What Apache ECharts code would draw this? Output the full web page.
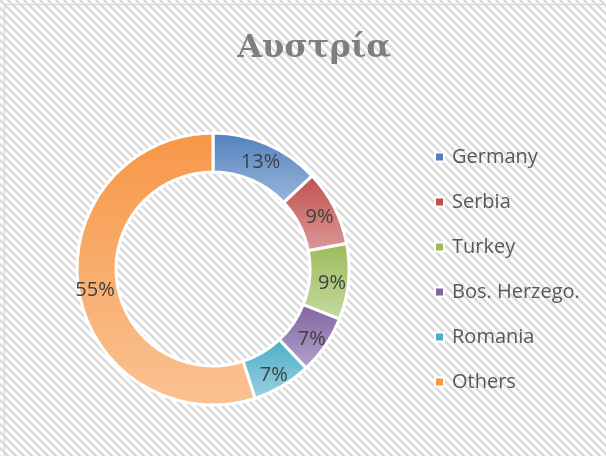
<!DOCTYPE html>
<html>
<head>
<meta charset="utf-8">
<script src="https://cdn.jsdelivr.net/npm/echarts@6/dist/echarts.min.js"></script>
<style>
html,body{margin:0;padding:0;background:#fff;}
#chart{width:606px;height:456px;}
</style>
</head>
<body>
<div id="chart"></div>
<script>
const categories = ['Germany', 'Serbia', 'Turkey', 'Bos. Herzego.', 'Romania', 'Others'];
const values = [13, 9, 9, 7, 7, 55];
const baseColors = ['#4F81BD', '#C0504D', '#9BBB59', '#8064A2', '#4BACC6', '#F79646'];
const lightColors = ['#9DB7DA', '#DB9A99', '#C6D9A2', '#B3A2C9', '#9AD2E2', '#FAC393'];
const titleText = 'Αυστρία';

// hatch pattern tile
const tile = document.createElement('canvas');
tile.width = 8; tile.height = 8;
const tc = tile.getContext('2d');
tc.fillStyle = '#ffffff';
tc.fillRect(0, 0, 8, 8);
tc.strokeStyle = '#d9d9d9';
tc.lineWidth = 2.4;
tc.beginPath();
tc.moveTo(-2, -2); tc.lineTo(10, 10);
tc.moveTo(-10, -2); tc.lineTo(2, 10);
tc.moveTo(6, -2); tc.lineTo(18, 10);
tc.stroke();

const chart = echarts.init(document.getElementById('chart'), null, {renderer: 'canvas'});

const data = categories.map((name, i) => ({
  name: name,
  value: values[i],
  itemStyle: {
    color: {
      type: 'linear', x: 0, y: 0, x2: 0, y2: 1,
      colorStops: [
        {offset: 0, color: baseColors[i]},
        {offset: 1, color: lightColors[i]}
      ]
    }
  }
}));

chart.setOption({
  backgroundColor: {image: tile, repeat: 'repeat'},
  animation: false,
  title: {
    text: titleText,
    left: 309, top: 28, textAlign: 'center',
    textStyle: {
      fontFamily: 'DejaVu Serif',
      fontWeight: 'bold',
      fontSize: 32,
      color: '#7F7F7F'
    }
  },
  legend: {
    orient: 'vertical',
    left: 434,
    top: 147,
    padding: 0,
    itemWidth: 9,
    itemHeight: 9,
    itemGap: 25,
    icon: 'rect',
    textStyle: {
      fontFamily: 'Open Sans',
      fontSize: 20,
      lineHeight: 20,
      color: '#595959',
      padding: [0, 0, 0, 3]
    },
    data: categories.map((c, i) => ({name: c, itemStyle: {color: baseColors[i]}}))
  },
  graphic: [{
    type: 'rect',
    shape: {x: 4.5, y: 4.5, width: 602, height: 452},
    style: {fill: 'none', stroke: '#d9d9d9', lineWidth: 1.5},
    silent: true
  }],
  series: [{
    type: 'pie',
    center: [213, 269],
    radius: [97, 136],
    startAngle: 90,
    clockwise: true,
    avoidLabelOverlap: false,
    label: {
      show: true,
      position: 'inside',
      offset: [0, 3],
      formatter: p => Math.round(p.percent) + '%',
      fontFamily: 'Open Sans',
      fontSize: 20,
      color: '#404040'
    },
    labelLine: {show: false},
    itemStyle: {borderColor: '#ffffff', borderWidth: 3},
    emphasis: {disabled: true},
    data: data
  }]
});
</script>
</body>
</html>
